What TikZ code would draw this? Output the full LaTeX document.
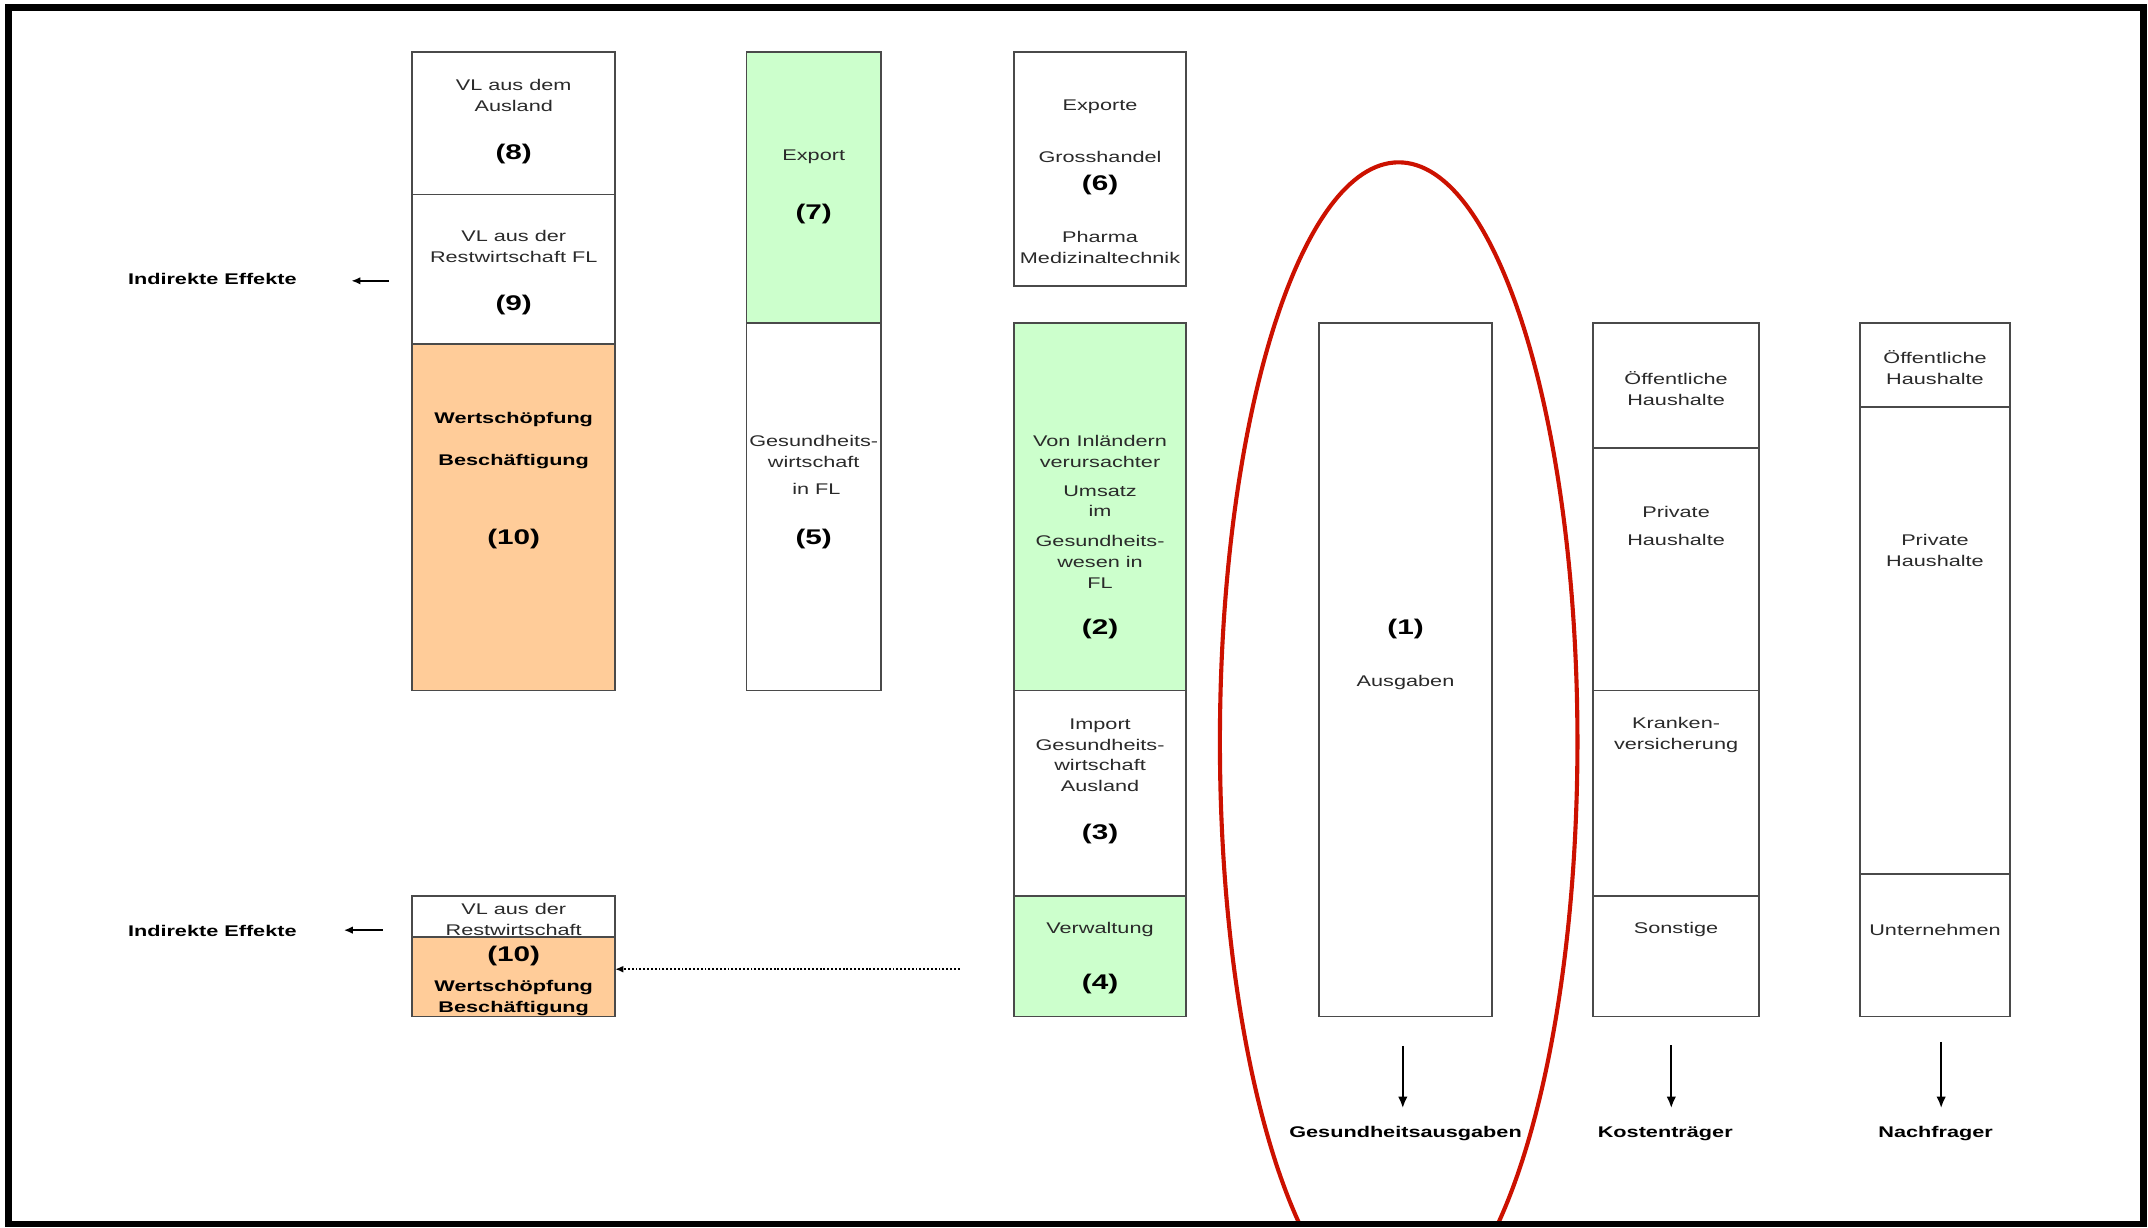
\documentclass[tikz,border=0pt]{standalone}
\usepackage{fontspec}
\setmainfont{Liberation Sans}[FakeStretch=1.4]
\usetikzlibrary{fit,arrows.meta}
\definecolor{cgreen}{HTML}{CCFFCC}
\definecolor{corange}{HTML}{FFCC99}
\definecolor{cline}{HTML}{4A4A4A}
\definecolor{cred}{HTML}{CC1100}
\definecolor{ctext}{HTML}{2A2A2A}
\newcommand{\ntext}{\fontsize{11.3}{15.2}\selectfont}
\newcommand{\btext}{\fontsize{11.3}{15.2}\selectfont\bfseries}
\newcommand{\numtext}{\fontsize{15.5}{18}\selectfont\bfseries}
\begin{document}
\begin{tikzpicture}[x=1pt,y=-1pt,
  cell/.style={draw=cline, line width=1.3pt, inner sep=0pt, outer sep=0pt, rectangle},
  txt/.style={font=\ntext, align=center, inner sep=0pt, text=ctext, yshift=-1.3pt},
  btxt/.style={font=\btext, align=center, inner sep=0pt, text=black, yshift=-1.3pt},
  num/.style={font=\numtext, inner sep=0pt, text=black, yshift=-1.5pt},
  arr/.style={line width=1.4pt, -{Latex[length=6.5pt,width=5.5pt]}},
  darr/.style={line width=1.7pt, -{Latex[length=8.5pt,width=7pt]}},
  dotarr/.style={line width=1.4pt, dash pattern=on 1.4pt off 1.4pt, -{Latex[length=6pt,width=5pt]}}
]
\useasboundingbox (0,0) rectangle (1568,896);
\fill[white] (0,0) rectangle (1568,896);

% column A (upper)
\node[cell, fit={(301,38) (449,142)}] (A1) {};
\node[cell, fit={(301,142) (449,251)}] (A2) {};
\node[cell, fill=corange, fit={(301,251) (449,504)}] (A3) {};
% column B
\node[cell, fill=cgreen, fit={(545,38) (643,236)}] (B1) {};
\node[cell, fit={(545,236) (643,504)}] (B2) {};
% column C
\node[cell, fit={(740,38) (866,209)}] (C0) {};
\node[cell, fill=cgreen, fit={(740,236) (866,504)}] (C1) {};
\node[cell, fit={(740,504) (866,654)}] (C2) {};
\node[cell, fill=cgreen, fit={(740,654) (866,742)}] (C3) {};
% column D
\node[cell, fit={(963,236) (1089,742)}] (D) {};
% column E
\node[cell, fit={(1163,236) (1284,327)}] (E1) {};
\node[cell, fit={(1163,327) (1284,504)}] (E2) {};
\node[cell, fit={(1163,504) (1284,654)}] (E3) {};
\node[cell, fit={(1163,654) (1284,742)}] (E4) {};
% column F
\node[cell, fit={(1358,236) (1467,297)}] (F1) {};
\node[cell, fit={(1358,297) (1467,638)}] (F2) {};
\node[cell, fit={(1358,638) (1467,742)}] (F3) {};
% lower small box
\node[cell, fit={(301,654) (449,684)}] (L1) {};
\node[cell, fill=corange, fit={(301,684) (449,742)}] (L2) {};

% texts column A
\node[txt] (tA1) at (375,68.5) {VL aus dem\\Ausland};
\node[num] (nA1) at (375,111) {(8)};
\node[txt] (tA2) at (375,178.5) {VL aus der\\Restwirtschaft FL};
\node[num] (nA2) at (375,221) {(9)};
\node[btxt] (tA3a) at (375,305.3) {Wertschöpfung};
\node[btxt] (tA3b) at (375,335.3) {Beschäftigung};
\node[num] (nA3) at (375,391.7) {(10)};
% texts column B
\node[txt] (tB1) at (594,113) {Export};
\node[num] (nB1) at (594,154.5) {(7)};
\node[txt] (tB2) at (594,328) {Gesundheits-\\wirtschaft};
\node[txt] (tB2b) at (596,355.7) {in FL};
\node[num] (nB2) at (594,391.7) {(5)};
% texts column C
\node[txt] (tC0a) at (803,77) {Exporte};
\node[txt] (tC0b) at (803,113) {Grosshandel};
\node[num] (nC0) at (803,133.8) {(6)};
\node[txt] (tC0c) at (803,179.6) {Pharma\\Medizinaltechnik};
\node[txt] (tC1a) at (803,328.4) {Von Inländern\\verursachter};
\node[txt] (tC1b) at (803,364.6) {Umsatz\\im};
\node[txt] (tC1c) at (803,408.9) {Gesundheits-\\wesen in\\FL};
\node[num] (nC1) at (803,458) {(2)};
\node[txt] (tC2) at (803,550) {Import\\Gesundheits-\\wirtschaft\\Ausland};
\node[num] (nC2) at (803,607) {(3)};
\node[txt] (tC3) at (803,677.5) {Verwaltung};
\node[num] (nC3) at (803,717) {(4)};
% column D
\node[num] (nD) at (1026,458) {(1)};
\node[txt] (tD) at (1026,497) {Ausgaben};
% column E
\node[txt] (tE1) at (1223.5,282.5) {Öffentliche\\Haushalte};
\node[txt] (tE2a) at (1223.5,372.3) {Private};
\node[txt] (tE2b) at (1223.5,392.5) {Haushalte};
\node[txt] (tE3) at (1223.5,535.4) {Kranken-\\versicherung};
\node[txt] (tE4) at (1223.5,677.5) {Sonstige};
% column F
\node[txt] (tF1) at (1412.5,267.3) {Öffentliche\\Haushalte};
\node[txt] (tF2) at (1412.5,400.8) {Private\\Haushalte};
\node[txt] (tF3) at (1412.5,677.5) {Unternehmen};
% lower small box
\node[txt] (tL1a) at (375,662) {VL aus der};
\node[txt] (tL1b) at (375,677.5) {Restwirtschaft};
\node[num] (nL2) at (375,696) {(10)};
\node[btxt] (tL2a) at (375,719.5) {Wertschöpfung};
\node[btxt] (tL2b) at (375,735) {Beschäftigung};

% side labels
\node[btxt] (ie1) at (155,202) {Indirekte Effekte};
\node[btxt] (ie2) at (155,678) {Indirekte Effekte};
\coordinate (ie1s) at (284,205);
\coordinate (ie1e) at (256.5,205);
\coordinate (ie2s) at (279.5,679);
\coordinate (ie2e) at (251,679);
\draw[arr] (ie1s) -- (ie1e);
\draw[arr] (ie2s) -- (ie2e);

% dotted arrow
\coordinate (dotS) at (700.5,707.5);
\draw[dotarr] (dotS) -- (dotS -| L2.east);

% bottom labels and arrows
\node[btxt] (lD) at (1026,826) {Gesundheitsausgaben};
\node[btxt] (lE) at (1215.6,826) {Kostenträger};
\node[btxt] (lF) at (1413,826) {Nachfrager};
\coordinate (aDs) at (1024,763.5);
\coordinate (aDe) at (1024,809);
\coordinate (aEs) at (1220,763);
\coordinate (aEe) at (1220,809);
\coordinate (aFs) at (1417,760.6);
\coordinate (aFe) at (1417,809);
\draw[darr] (aDs) -- (aDe);
\draw[darr] (aEs) -- (aEe);
\draw[darr] (aFs) -- (aFe);

% red ellipse
\begin{scope}
  \clip (6.5,5.5) rectangle (1565,893.5);
  \draw[cred, line width=3pt] (1021,541.5) ellipse [x radius=130.5pt, y radius=423pt];
\end{scope}

% frame
\draw[black, line width=5pt] (6.5,5.5) rectangle (1565,893.5);
\end{tikzpicture}
\end{document}
